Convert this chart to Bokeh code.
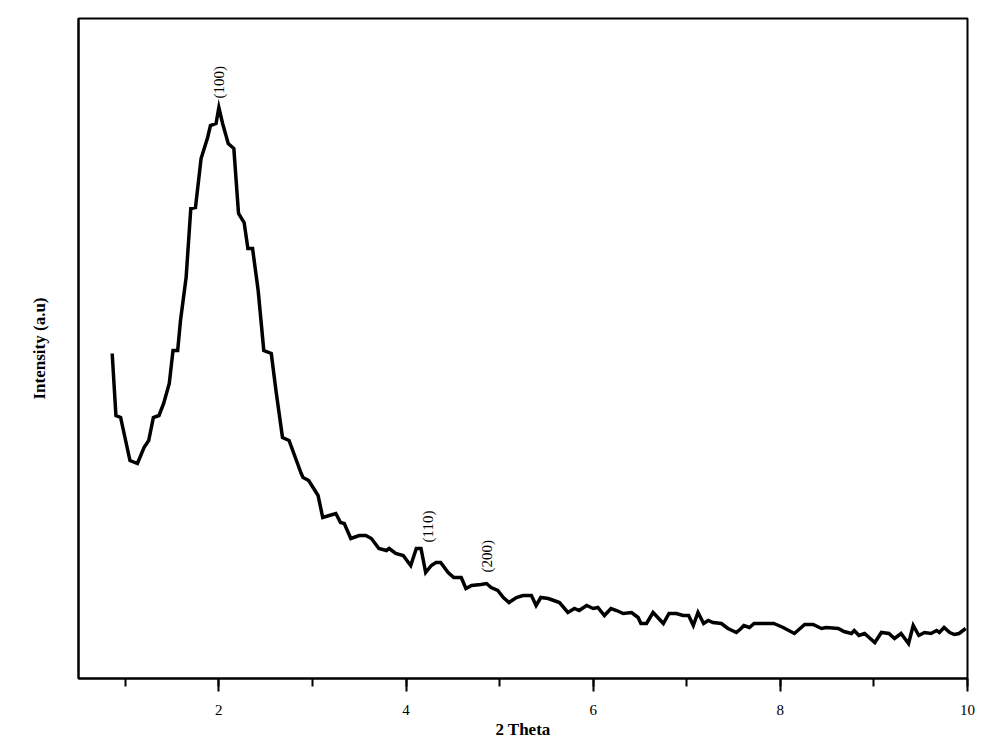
import math
from bokeh.plotting import figure
from bokeh.models import Range1d, SingleIntervalTicker, FixedTicker, ColumnDataSource
from bokeh.core.properties import value
from bokeh.embed import file_html
from bokeh.resources import INLINE

two_theta = [0.86, 0.90, 0.95, 1.05, 1.13, 1.20, 1.25, 1.30, 1.36, 1.41, 1.47, 1.51, 1.56, 1.59,
             1.65, 1.70, 1.75, 1.81, 1.88, 1.91, 1.97, 2.00, 2.04, 2.10, 2.16, 2.21, 2.27, 2.31,
             2.36, 2.42, 2.48, 2.56, 2.61, 2.68, 2.75, 2.88, 2.90, 2.96, 3.06, 3.11, 3.18, 3.25,
             3.30, 3.34, 3.41, 3.50, 3.57, 3.63, 3.71, 3.79, 3.82, 3.89, 3.97, 4.05, 4.11, 4.16,
             4.21, 4.27, 4.32, 4.37, 4.45, 4.51, 4.59, 4.64, 4.70, 4.80, 4.86, 4.91, 4.98, 5.04,
             5.10, 5.18, 5.25, 5.34, 5.39, 5.44, 5.52, 5.58, 5.64, 5.73, 5.80, 5.85, 5.93, 6.00,
             6.05, 6.12, 6.19, 6.25, 6.32, 6.41, 6.48, 6.51, 6.57, 6.64, 6.70, 6.75, 6.81, 6.89,
             6.96, 7.02, 7.07, 7.12, 7.18, 7.23, 7.28, 7.37, 7.44, 7.53, 7.58, 7.61, 7.67, 7.72,
             7.83, 7.93, 8.03, 8.15, 8.26, 8.35, 8.44, 8.49, 8.62, 8.68, 8.76, 8.79, 8.84, 8.90,
             9.01, 9.08, 9.16, 9.22, 9.29, 9.37, 9.42, 9.48, 9.54, 9.61, 9.67, 9.70, 9.75, 9.81,
             9.86, 9.91, 9.98]

intensity = [325, 263, 261, 218, 215, 231, 238, 261, 263, 275, 295, 328, 328, 358,
             401, 470, 471, 520, 541, 553, 555, 571, 555, 535, 530, 465, 456, 430,
             430, 388, 328, 325, 288, 241, 238, 205, 201, 198, 183, 161, 163, 165,
             156, 155, 140, 143, 143, 140, 130, 128, 130, 125, 123, 113, 130, 130,
             106, 113, 116, 116, 106, 101, 101, 90, 93, 94, 95, 91, 88, 81,
             76, 81, 83, 83, 73, 81, 80, 78, 76, 66, 70, 68, 73, 70,
             71, 63, 70, 68, 65, 66, 61, 55, 55, 66, 60, 55, 65, 65,
             63, 63, 53, 66, 55, 58, 56, 55, 50, 46, 50, 53, 51, 55,
             55, 55, 51, 45, 54, 54, 50, 51, 50, 47, 45, 48, 43, 45,
             36, 46, 45, 40, 45, 35, 53, 43, 46, 45, 48, 46, 51, 46,
             44, 45, 50]

peak_labels = ["(100)", "(110)", "(200)"]
peak_x = [2.00, 4.23, 4.87]
peak_y = [580, 136, 106]

p = figure(width=984, height=744, output_backend="svg", toolbar_location=None,
           x_range=Range1d(0.5, 10), y_range=Range1d(0, 660),
           min_border_left=78, min_border_top=18, min_border_right=17, min_border_bottom=66)

p.background_fill_color = "white"
p.border_fill_color = "white"
p.outline_line_color = "black"
p.outline_line_width = 2
p.xgrid.visible = False
p.ygrid.visible = False

p.line(two_theta, intensity, line_color="black", line_width=3.5, line_join="miter")

src = ColumnDataSource(dict(x=peak_x, y=peak_y, t=peak_labels))
p.text(x="x", y="y", text="t", source=src, angle=math.pi / 2,
       text_align="left", text_baseline="middle",
       text_font=value("Liberation Serif"), text_font_size="15px", text_color="black")

xa = p.xaxis[0]
xa.ticker = SingleIntervalTicker(interval=2, num_minor_ticks=2)
xa.axis_label = "2 Theta"
xa.axis_label_text_font = "Liberation Serif"
xa.axis_label_text_font_style = "bold"
xa.axis_label_text_font_size = "17px"
xa.axis_label_text_color = "black"
xa.axis_label_standoff = 2
xa.major_label_text_font = "Liberation Serif"
xa.major_label_text_font_size = "15px"
xa.major_label_text_color = "black"
xa.major_label_standoff = 13
xa.major_tick_out = 13
xa.major_tick_in = 0
xa.minor_tick_out = 8
xa.minor_tick_in = 0
xa.major_tick_line_width = 2
xa.minor_tick_line_width = 2
xa.axis_line_width = 2

ya = p.yaxis[0]
ya.ticker = FixedTicker(ticks=[])
ya.axis_label = "Intensity (a.u)"
ya.axis_label_text_font = "Liberation Serif"
ya.axis_label_text_font_style = "bold"
ya.axis_label_text_font_size = "17px"
ya.axis_label_text_color = "black"
ya.major_tick_line_color = None
ya.minor_tick_line_color = None
ya.axis_line_width = 2
ya.axis_label_standoff = 30

open("out.html", "w").write(file_html(p, INLINE))
